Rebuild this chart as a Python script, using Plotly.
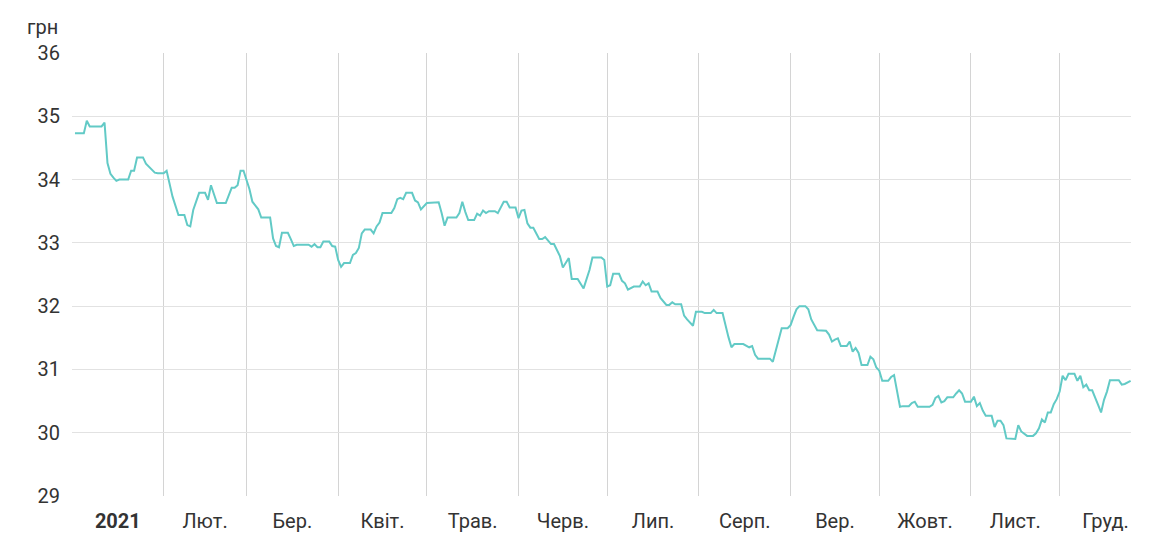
import pandas as pd
import plotly.graph_objects as go

# Day offsets from 2021-01-01 and rate values (UAH)
day_offsets = [
    1, 4, 5, 6, 10, 11, 12, 13, 14, 15, 16, 19, 20, 21, 22, 24, 25, 26, 27, 28, 29, 31,
    32, 33, 34, 36, 38, 39, 40, 41, 43, 45, 46, 47, 49, 52, 53, 54, 55, 56, 57, 58,
    60, 61, 63, 64, 67, 68, 69, 70, 71, 73, 74, 75, 76, 80, 81, 82, 83, 84, 85, 87,
    88, 89, 90, 91, 92, 94, 95, 96, 97, 98, 99, 101, 102, 103, 104, 105, 108, 109,
    110, 111, 112, 113, 115, 116, 117, 118, 120, 124, 125, 126, 127, 130, 131, 132,
    133, 134, 136, 137, 138, 139, 140, 141, 143, 144, 146, 147, 148, 150, 151, 152,
    153, 154, 155, 156, 158, 159, 160, 162, 163, 165, 166, 168, 169, 171, 173, 175,
    176, 179, 180, 181, 182, 183, 185, 186, 187, 188, 190, 192, 193, 194, 195, 196,
    198, 199, 201, 202, 203, 204, 206, 207, 208, 210, 211, 213, 214, 216, 217, 218,
    220, 221, 222, 223, 224, 227, 228, 229, 230, 231, 232, 236, 237, 238, 239, 240,
    242, 243, 244, 245, 246, 248, 249, 250, 252, 255, 256, 257, 258, 259, 260, 262,
    263, 264, 265, 266, 267, 269, 270, 271, 272, 273, 274, 276, 277, 278, 280, 281,
    283, 284, 285, 286, 290, 291, 292, 293, 294, 295, 296, 298, 299, 300, 301, 302,
    304, 305, 306, 307, 308, 309, 311, 312, 313, 314, 315, 316, 319, 320, 321, 322,
    323, 325, 326, 327, 328, 329, 330, 331, 332, 333, 334, 335, 336, 337, 339, 340,
    341, 342, 343, 344, 345, 347, 348, 349, 350, 351, 354, 355, 356, 358,
]
rates = [
    34.73, 34.73, 34.93, 34.84, 34.84, 34.90, 34.26, 34.09, 34.03, 33.98, 34.00, 34.00, 34.14, 34.14, 34.35, 34.35, 34.25, 34.20, 34.15, 34.11, 34.10, 34.10,
    34.14, 33.91, 33.73, 33.44, 33.44, 33.28, 33.26, 33.52, 33.79, 33.79, 33.68, 33.91, 33.63, 33.63, 33.76, 33.87, 33.87, 33.91, 34.14, 34.14,
    33.85, 33.65, 33.53, 33.40, 33.40, 33.07, 32.95, 32.93, 33.16, 33.16, 33.06, 32.95, 32.97, 32.97, 32.94, 32.98, 32.93, 32.93, 33.02, 33.02,
    32.95, 32.94, 32.73, 32.62, 32.68, 32.68, 32.81, 32.84, 32.92, 33.15, 33.21, 33.21, 33.15, 33.26, 33.32, 33.47, 33.47, 33.55,
    33.69, 33.71, 33.69, 33.79, 33.79, 33.67, 33.64, 33.53, 33.63, 33.64, 33.47, 33.27, 33.40, 33.40, 33.47, 33.65,
    33.49, 33.36, 33.36, 33.46, 33.43, 33.51, 33.47, 33.50, 33.50, 33.47, 33.65, 33.65, 33.56, 33.56, 33.39, 33.51,
    33.52, 33.31, 33.24, 33.24, 33.06, 33.06, 33.09, 32.98, 32.98, 32.79, 32.61, 32.76, 32.43, 32.43, 32.28, 32.57,
    32.77, 32.77, 32.73, 32.31, 32.33, 32.51, 32.51, 32.40, 32.36, 32.26, 32.31, 32.31, 32.39, 32.33, 32.36, 32.23,
    32.23, 32.13, 32.02, 32.02, 32.06, 32.03, 32.03, 31.85, 31.79, 31.69, 31.91, 31.91, 31.89, 31.89, 31.94, 31.89,
    31.89, 31.68, 31.51, 31.35, 31.40, 31.40, 31.37, 31.35, 31.37, 31.23, 31.17, 31.17, 31.12, 31.31, 31.48, 31.65,
    31.65, 31.70, 31.83, 31.95, 32.00, 32.00, 31.95, 31.79, 31.62, 31.61, 31.55, 31.44, 31.47, 31.49, 31.37, 31.37,
    31.44, 31.28, 31.34, 31.26, 31.07, 31.07, 31.20, 31.16, 31.03, 30.98, 30.82, 30.82, 30.88, 30.91, 30.41, 30.42,
    30.42, 30.47, 30.49, 30.41, 30.41, 30.44, 30.55, 30.58, 30.48, 30.50, 30.56, 30.56, 30.62, 30.67, 30.62, 30.49,
    30.49, 30.57, 30.42, 30.47, 30.35, 30.27, 30.27, 30.09, 30.19, 30.19, 30.12, 29.91, 29.90, 30.12, 30.02, 29.98,
    29.95, 29.95, 29.99, 30.07, 30.21, 30.16, 30.32, 30.32, 30.45, 30.53, 30.65, 30.90, 30.83, 30.93, 30.93, 30.82,
    30.90, 30.72, 30.76, 30.67, 30.67, 30.44, 30.32, 30.52, 30.65, 30.83, 30.83, 30.76, 30.77, 30.82,
]

month_labels = ["<b>2021</b>", "Лют.", "Бер.", "Квіт.", "Трав.", "Черв.",
                "Лип.", "Серп.", "Вер.", "Жовт.", "Лист.", "Груд."]
y_ticks = [29, 30, 31, 32, 33, 34, 35, 36]
unit_label = "грн"

base = pd.Timestamp("2021-01-01")
dates = [base + pd.Timedelta(days=d) for d in day_offsets]
month_starts = pd.date_range("2021-01-01", periods=12, freq="MS")
month_mids = [m + pd.Timedelta(days=(m.days_in_month) / 2) for m in month_starts]
x_range = [base, pd.Timestamp("2021-12-25 03:00")]

font_family = "Roboto, 'Noto Sans', sans-serif"
text_color = "#333333"

fig = go.Figure()
fig.add_trace(go.Scatter(
    x=dates, y=rates, mode="lines",
    line=dict(color="#62cac6", width=2),
    hoverinfo="x+y", showlegend=False,
))
# invisible trace for the label axis
fig.add_trace(go.Scatter(
    x=[x_range[0], x_range[1]], y=[None, None], xaxis="x2",
    mode="lines", showlegend=False, hoverinfo="skip",
))

fig.update_layout(
    width=1154, height=537,
    margin=dict(l=64, r=31, t=45, b=49),
    paper_bgcolor="white", plot_bgcolor="white",
    font=dict(family=font_family, size=18, color=text_color),
    xaxis=dict(
        type="date", range=x_range,
        tickvals=month_starts, ticktext=[""] * 12,
        showgrid=True, gridcolor="#d4d4d4", gridwidth=1,
        showline=False, zeroline=False, ticks="",
    ),
    xaxis2=dict(
        type="date", range=x_range, overlaying="x", anchor="y", side="bottom",
        tickvals=month_mids, ticktext=month_labels,
        showgrid=False, showline=False, zeroline=False,
        ticks="outside", ticklen=7, tickcolor="rgba(0,0,0,0)",
        tickfont=dict(family=font_family, size=20, color=text_color),
    ),
    yaxis=dict(
        range=[29, 36], tickvals=y_ticks,
        showgrid=True, gridcolor="#e2e2e2", gridwidth=1,
        showline=False, zeroline=False,
        ticks="outside", ticklen=7, tickcolor="rgba(0,0,0,0)",
        tickfont=dict(family=font_family, size=20, color=text_color),
    ),
    annotations=[dict(
        text=unit_label, xref="paper", yref="paper", x=-0.0444, y=1.058,
        xanchor="left", yanchor="middle", showarrow=False,
        font=dict(family=font_family, size=20, color=text_color),
    )],
)

fig.write_html("out.html")
